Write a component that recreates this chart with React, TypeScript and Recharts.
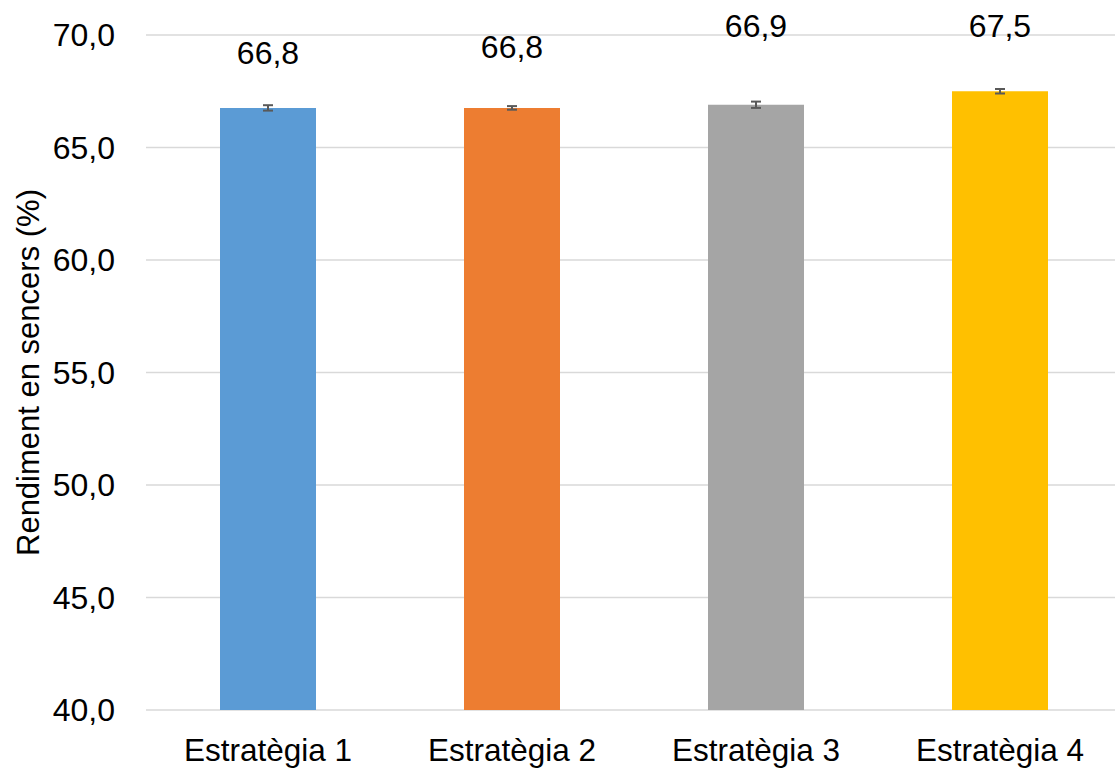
import { BarChart, Bar, XAxis, YAxis, CartesianGrid, Cell, ErrorBar, LabelList } from "recharts";

const strategies = ["Estratègia 1", "Estratègia 2", "Estratègia 3", "Estratègia 4"];
const yieldValues = [66.76, 66.76, 66.9, 67.5];
const yieldErrors = [0.12, 0.08, 0.14, 0.1];
const yTicks = [40, 45, 50, 55, 60, 65, 70];

const barColors = ["#5B9BD5", "#ED7D31", "#A5A5A5", "#FFC000"];
// how far above each bar top its value label sits (px), as in the original
const labelLift = [55, 61, 79, 65];

const FONT = "'Liberation Sans', Arial, sans-serif";

const data = strategies.map((name, i) => ({
  name,
  value: yieldValues[i],
  err: yieldErrors[i],
}));

const fmt = (v: number) => v.toFixed(1).replace(".", ",");

function ValueLabel(props: any) {
  const { x, y, width, value, index } = props;
  return (
    <text
      x={x + width / 2}
      y={y - labelLift[index]}
      textAnchor="middle"
      dominantBaseline="central"
      fontSize={32}
      fontFamily={FONT}
      fill="#000"
    >
      {fmt(value)}
    </text>
  );
}

export default function App() {
  return (
    <div style={{ position: "fixed", left: 0, top: 0, width: 1115, height: 768, overflow: "hidden", background: "#fff" }}>
      <BarChart width={1130} height={768} data={data} margin={{ top: 35, right: 8, left: 0, bottom: 0 }}>
        <CartesianGrid vertical={false} stroke="#d9d9d9" strokeWidth={1.5} />
        <XAxis
          dataKey="name"
          height={58}
          axisLine={false}
          tickLine={false}
          tickSize={0}
          tickMargin={29}
          tick={{ fontSize: 31.5, fontFamily: FONT, fill: "#000" }}
        />
        <YAxis
          width={146}
          domain={[40, 70]}
          ticks={yTicks}
          allowDataOverflow
          axisLine={false}
          tickLine={false}
          tickSize={0}
          tickMargin={31}
          tickFormatter={fmt}
          tick={{ fontSize: 32, fontFamily: FONT, fill: "#000" }}
          label={{
            value: "Rendiment en sencers (%)",
            angle: -90,
            position: "insideLeft",
            offset: 28,
            style: { textAnchor: "middle", fontSize: 31, fontFamily: FONT, fill: "#000" },
          }}
        />
        <Bar dataKey="value" barSize={96} isAnimationActive={false}>
          {data.map((d, i) => (
            <Cell key={d.name} fill={barColors[i]} />
          ))}
          <ErrorBar dataKey="err" width={5} stroke="#595959" strokeWidth={2} direction="y" />
          <LabelList dataKey="value" content={ValueLabel} />
        </Bar>
      </BarChart>
    </div>
  );
}
